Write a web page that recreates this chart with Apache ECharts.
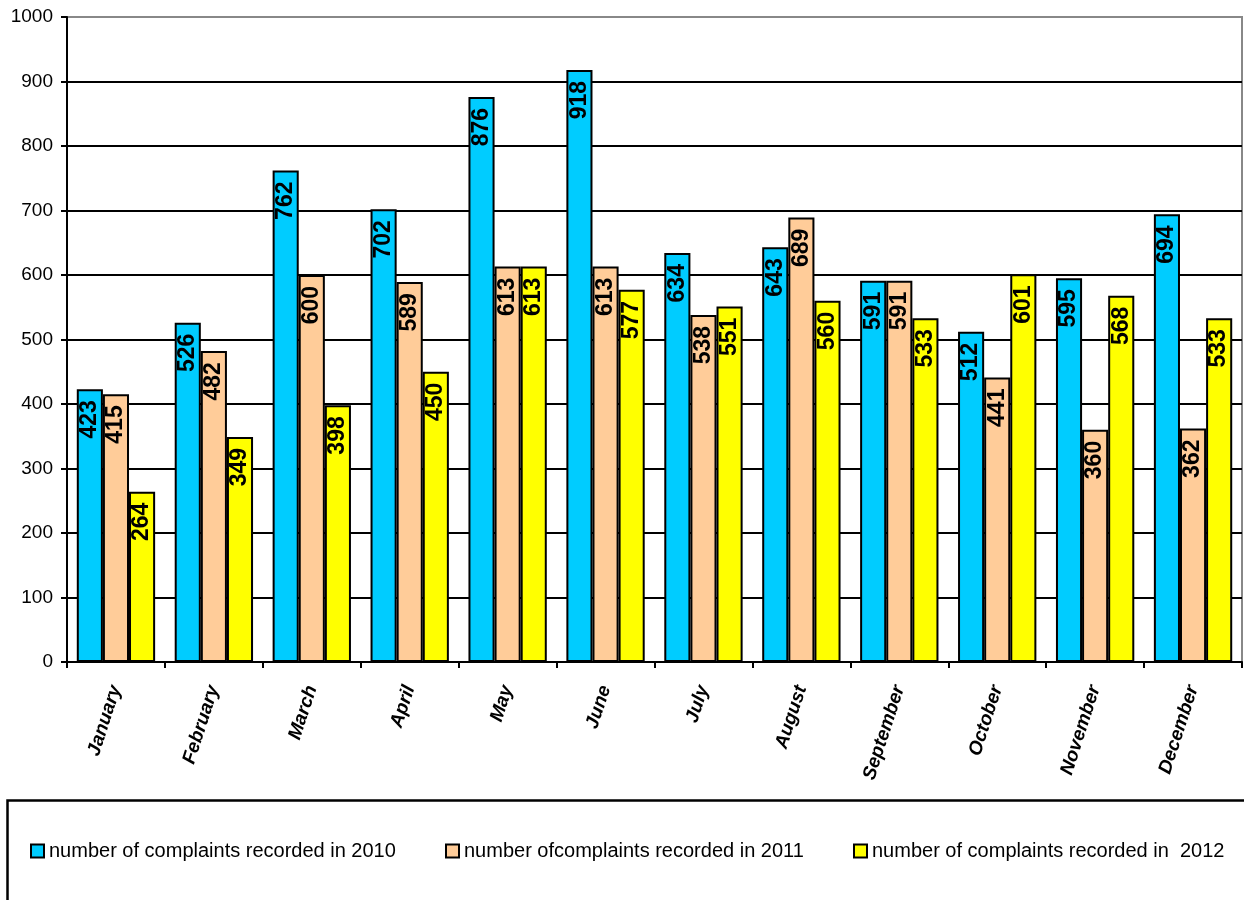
<!DOCTYPE html>
<html>
<head>
<meta charset="utf-8">
<script src="https://cdn.jsdelivr.net/npm/echarts@6/dist/echarts.min.js"></script>
<style>
html,body{margin:0;padding:0;background:#fff;}
#chart{width:1244px;height:900px;}
</style>
</head>
<body>
<div id="chart"></div>
<script>
const categories = ['January','February','March','April','May','June','July','August','September','October','November','December'];
const seriesNames = ['number of complaints recorded in 2010','number ofcomplaints recorded in 2011','number of complaints recorded in  2012'];
const values2010 = [423,526,762,702,876,918,634,643,591,512,595,694];
const values2011 = [415,482,600,589,613,613,538,689,591,441,360,362];
const values2012 = [264,349,398,450,613,577,551,560,533,601,568,533];
const colors = ['#00CCFF','#FFCC99','#FFFF00'];
const yTicks = [0,100,200,300,400,500,600,700,800,900,1000];

const FONT = 'Arial, "Liberation Sans", sans-serif';
const chart = echarts.init(document.getElementById('chart'), null, {renderer:'canvas'});

const allValues = [values2010, values2011, values2012];
const series = allValues.map((vals, i) => ({
  name: seriesNames[i],
  type: 'bar',
  data: vals,
  barGap: '0%',
  barCategoryGap: '20%',
  itemStyle: {color: colors[i], borderColor: '#000', borderWidth: 2},
  label: {
    show: true,
    position: 'insideTop',
    rotate: 90,
    align: 'right',
    verticalAlign: 'middle',
    distance: 11,
    color: '#000',
    fontWeight: 'bold',
    fontSize: 23,
    fontFamily: FONT
  },
  emphasis: {disabled: true},
  animation: false
}));

const splitColors = yTicks.map((v, i) => i === yTicks.length - 1 ? 'rgba(0,0,0,0)' : '#000');
const legendLefts = [30, 445, 853];

chart.setOption({
  animation: false,
  grid: {left: 67, right: 2, top: 17, bottom: 238, show: true, borderColor: '#888', borderWidth: 2, backgroundColor: 'transparent'},
  xAxis: {
    type: 'category',
    data: categories,
    axisLine: {lineStyle: {color: '#000', width: 2}},
    axisTick: {show: true, alignWithLabel: false, length: 6, lineStyle: {color: '#000', width: 2}},
    axisLabel: {
      rotate: 72,
      margin: 24,
      color: '#000',
      fontSize: 19,
      fontWeight: 'bold',
      fontStyle: 'italic',
      fontFamily: FONT,
      interval: 0
    }
  },
  yAxis: {
    type: 'value',
    min: yTicks[0],
    max: yTicks[yTicks.length - 1],
    interval: 100,
    axisLine: {show: true, lineStyle: {color: '#000', width: 2}},
    axisTick: {show: true, length: 6, lineStyle: {color: '#000', width: 2}},
    axisLabel: {margin: 14, color: '#000', fontSize: 19, fontFamily: FONT, formatter: v => String(v)},
    splitLine: {show: true, lineStyle: {color: splitColors, width: 2}}
  },
  legend: seriesNames.map((n, i) => ({
    data: [n],
    left: legendLefts[i],
    top: 841,
    padding: 0,
    orient: 'horizontal',
    itemWidth: 13,
    itemHeight: 13,
    icon: 'rect',
    selectedMode: false,
    textStyle: {color: '#000', fontSize: 20, fontFamily: FONT}
  })),
  graphic: [{
    type: 'rect',
    left: 5, top: 798,
    shape: {x: 0, y: 0, width: 1300, height: 200},
    style: {fill: 'none', stroke: '#000', lineWidth: 2.5},
    silent: true,
    z: -1
  }],
  series: series
});
</script>
</body>
</html>
